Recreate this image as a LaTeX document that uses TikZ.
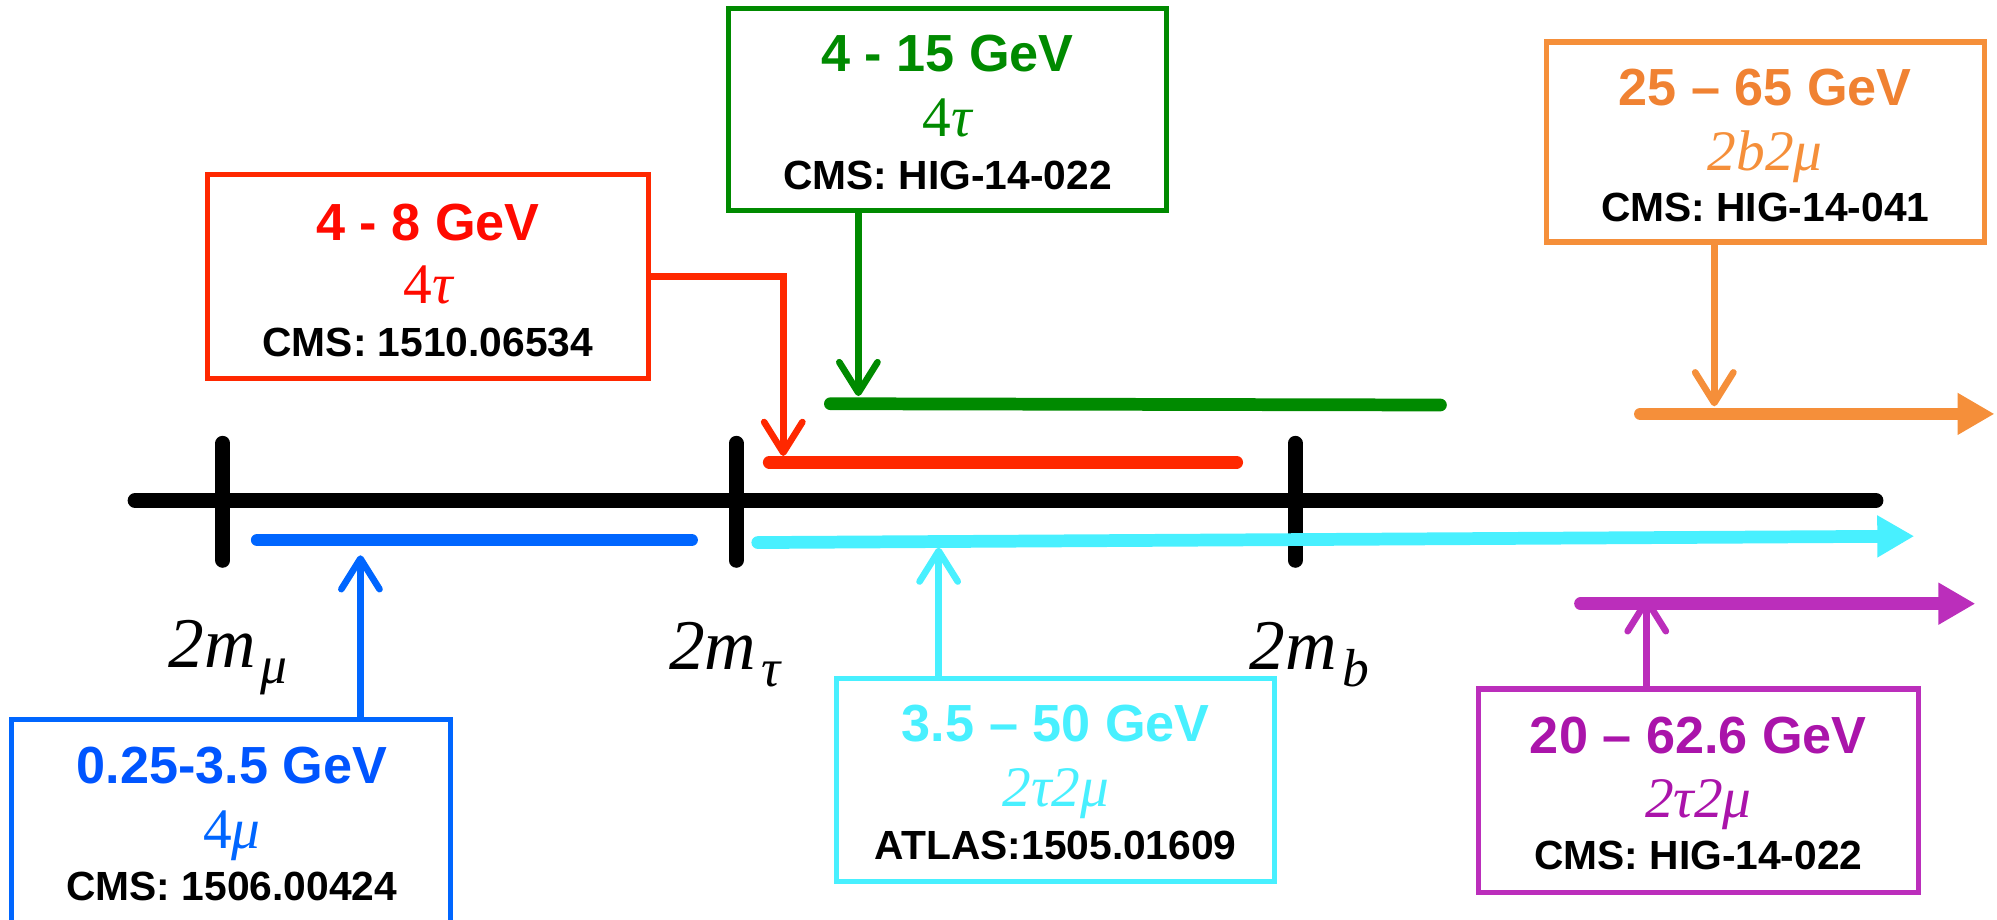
\documentclass[tikz,border=0pt]{standalone}
\usepackage{fontspec}
\setmainfont{Liberation Sans}
\newfontfamily\tms{Liberation Serif}
\usetikzlibrary{arrows.meta}
\definecolor{cred}{RGB}{255,40,0}
\definecolor{credtxt}{RGB}{255,10,0}
\definecolor{cgreen}{RGB}{0,138,0}
\definecolor{corange}{RGB}{245,143,58}
\definecolor{corangetxt}{RGB}{240,130,50}
\definecolor{cblue}{RGB}{0,102,255}
\definecolor{cbluetxt}{RGB}{0,85,255}
\definecolor{ccyan}{RGB}{72,240,255}
\definecolor{cmag}{RGB}{187,46,187}
\definecolor{cmagtxt}{RGB}{170,20,170}
\tikzset{
  rbox/.style={line width=2pt, inner sep=0pt, fill=white},
  head/.style={font=\bfseries\fontsize{20.5}{24}\selectfont, anchor=base, inner sep=0pt},
  mid/.style={font=\tms\fontsize{22.5}{24}\selectfont, anchor=base, inner sep=0pt},
  refl/.style={font=\bfseries\fontsize{16}{19}\selectfont, anchor=base, inner sep=0pt, text=black},
  rng/.style={line width=5pt, line cap=round},
  conn/.style={line width=2.6pt, -{Straight Barb[length=12pt,width=15pt,round]}},
  bigarrow/.style={line width=5pt, line cap=round, -{Triangle[length=14.5pt,width=15.5pt]}},
  lbl/.style={font=\tms\itshape\fontsize{28}{30}\selectfont, anchor=base west, inner sep=0pt},
}
\newcommand{\subs}[1]{\hspace{2pt}\raisebox{-6.5pt}{\fontsize{21}{21}\selectfont #1}}
\begin{document}
\begin{tikzpicture}[x=0.5pt,y=-0.5pt]
\useasboundingbox (0,0) rectangle (1568,721.6);

% main axis and ticks
\draw[line width=5.8pt, line cap=round] (106,393) -- (1473,393);
\foreach \tx in {175,578,1017}
  \draw[line width=5.8pt, line cap=round] (\tx,348) -- (\tx,440);

% range segments
\draw[rng, cblue] (202,424) -- (543,424);
\draw[rng, cred] (604,363) -- (971,363);
\draw[rng, cgreen] (652,317) -- (1131,318);
\draw[bigarrow, ccyan] (595,426) -- (1503,421);
\draw[bigarrow, corange] (1288,325) -- (1566,325);
\draw[bigarrow, cmag] (1241,474) -- (1551,474);

% labels
\node[lbl] (lmu) at (132,524) {2m\subs{μ}};
\node[lbl] (ltau) at (525,526) {2m\subs{τ}};
\node[lbl] (lb) at (981,526) {2m\subs{b}};

% boxes
\node[rbox, draw=cred, minimum width=173pt, minimum height=80pt] (redbox) at (336,217) {};
\node[rbox, draw=cgreen, minimum width=172pt, minimum height=79.25pt] (greenbox) at (744,85.75) {};
\node[rbox, draw=corange, minimum width=172pt, minimum height=78.5pt] (orangebox) at (1386,111.5) {};
\node[rbox, draw=cblue, minimum width=172.5pt, minimum height=81pt] (bluebox) at (181.5,646) {};
\node[rbox, draw=ccyan, minimum width=172pt, minimum height=79.5pt] (cyanbox) at (829,612.5) {};
\node[rbox, draw=cmag, minimum width=172.5pt, minimum height=80pt] (magbox) at (1333.5,621) {};

% box texts
\node[head, text=credtxt] (redh) at (336,188.5) {4 - 8 GeV};
\node[mid, text=credtxt] (redm) at (336,238) {4{\itshape τ}};
\node[refl] (redr) at (336,280) {CMS: 1510.06534};

\node[head, text=cgreen] (greenh) at (744,56) {4 - 15 GeV};
\node[mid, text=cgreen] (greenm) at (744,107) {4{\itshape τ}};
\node[refl] (greenr) at (744,149) {CMS: HIG-14-022};

\node[head, text=corangetxt] (orangeh) at (1386,82.5) {25 – 65 GeV};
\node[mid, text=corange] (orangem) at (1386,133.5) {\itshape 2b2μ};
\node[refl] (oranger) at (1386,174) {CMS: HIG-14-041};

\node[head, text=cbluetxt] (blueh) at (182,615) {0.25-3.5 GeV};
\node[mid, text=cblue] (bluem) at (182,666) {4{\itshape μ}};
\node[refl] (bluer) at (182,707) {CMS: 1506.00424};

\node[head, text=ccyan] (cyanh) at (829,582.5) {3.5 – 50 GeV};
\node[mid, text=ccyan] (cyanm) at (829,633.5) {\itshape 2τ2μ};
\node[refl] (cyanr) at (829,674.5) {ATLAS:1505.01609};

\node[head, text=cmagtxt] (magh) at (1333.5,591.5) {20 – 62.6 GeV};
\node[mid, text=cmagtxt] (magm) at (1333.5,641.5) {\itshape 2τ2μ};
\node[refl] (magr) at (1333.5,683) {CMS: HIG-14-022};

% connector tips
\coordinate (redtip) at (615,358);
\coordinate (greentip) at (674,311);
\coordinate (orangetip) at (1346,319);
\coordinate (bluetip) at (283,436);
\coordinate (cyantip) at (737,430);
\coordinate (magtip) at (1293,469);

% connectors
\draw[conn, cred] (redbox.east) -| (redtip);
\draw[conn, cgreen] (greenbox.south -| greentip) -- (greentip);
\draw[conn, corange] (orangebox.south -| orangetip) -- (orangetip);
\draw[conn, cblue] (bluebox.north -| bluetip) -- (bluetip);
\draw[conn, ccyan] (cyanbox.north -| cyantip) -- (cyantip);
\draw[conn, cmag] (magbox.north -| magtip) -- (magtip);
\end{tikzpicture}
\end{document}
